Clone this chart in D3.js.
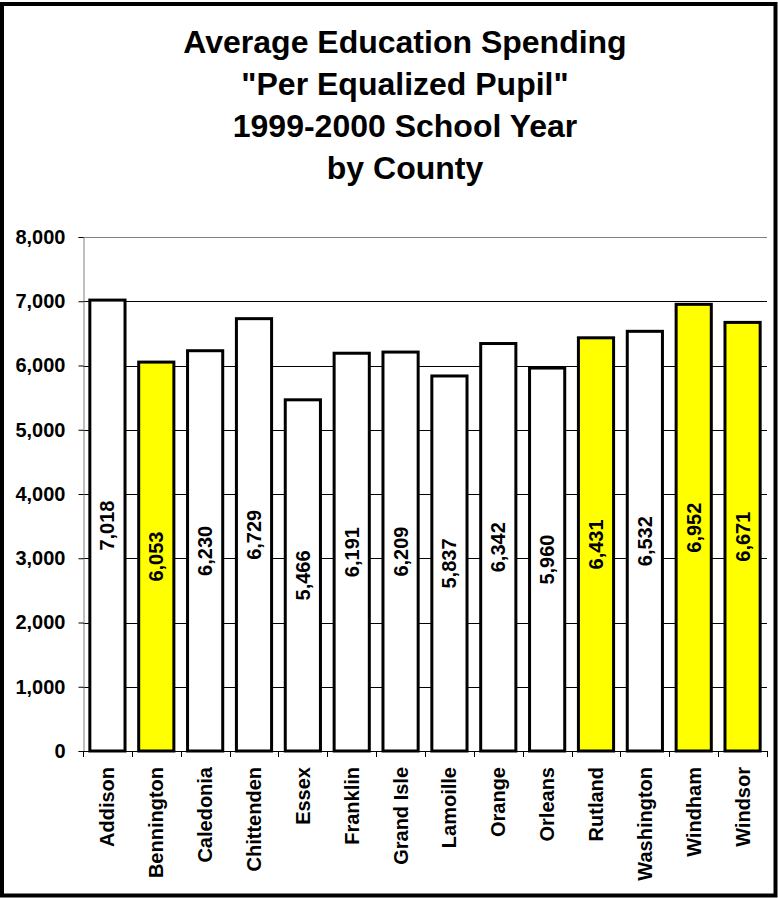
<!DOCTYPE html>
<html>
<head>
<meta charset="utf-8">
<script src="https://cdn.jsdelivr.net/npm/d3@7"></script>
<style>
  html, body { margin: 0; padding: 0; background: #fff; }
  svg { display: block; }
  text { font-family: "Liberation Sans", Arial, sans-serif; font-weight: bold; fill: #000; }
</style>
</head>
<body>
<svg id="chart" width="778" height="898"></svg>
<script>
const titleLines = ["Average Education Spending", "\"Per Equalized Pupil\"", "1999-2000 School Year", "by County"];
const counties = ["Addison", "Bennington", "Caledonia", "Chittenden", "Essex", "Franklin", "Grand Isle", "Lamoille", "Orange", "Orleans", "Rutland", "Washington", "Windham", "Windsor"];
const spending = [7018, 6053, 6230, 6729, 5466, 6191, 6209, 5837, 6342, 5960, 6431, 6532, 6952, 6671];
const highlighted = ["Bennington", "Rutland", "Windham", "Windsor"];
const yTicks = [0, 1000, 2000, 3000, 4000, 5000, 6000, 7000, 8000];

const svg = d3.select("#chart");
const W = 778, H = 898;
const plot = { left: 83, right: 767, top: 237, bottom: 751 };

// outer frame
svg.append("rect").attr("x", 2).attr("y", 4).attr("width", W - 4.5).attr("height", H - 6.5)
  .attr("fill", "#fff").attr("stroke", "#000").attr("stroke-width", 4);

// title
svg.append("g").selectAll("text").data(titleLines).join("text")
  .attr("x", 405).attr("y", (d, i) => 53 + i * 42)
  .attr("text-anchor", "middle").attr("font-size", 32)
  .text(d => d);

const x = d3.scaleBand().domain(counties).range([plot.left, plot.right])
  .paddingInner(0.28).paddingOuter(0.14);
const y = d3.scaleLinear().domain([0, 8000]).range([plot.bottom, plot.top]);

// gridlines
svg.append("g").selectAll("line").data(yTicks.filter(t => t > 0)).join("line")
  .attr("x1", plot.left).attr("x2", plot.right)
  .attr("y1", d => Math.round(y(d)) + 0.5).attr("y2", d => Math.round(y(d)) + 0.5)
  .attr("stroke", d => d === 8000 ? "#808080" : "#000").attr("stroke-width", 1);

// y axis
const yAxis = d3.axisLeft(y).tickValues(yTicks).tickFormat(d3.format(",")).tickSize(5).tickPadding(13);
const gy = svg.append("g").attr("transform", `translate(${plot.left + 0.5},0)`).call(yAxis);
gy.select(".domain").attr("stroke", "#808080");
gy.selectAll(".tick line").attr("stroke", "#000");
gy.selectAll(".tick text").attr("font-size", 20).attr("font-family", "Liberation Sans, Arial, sans-serif").attr("font-weight", "bold").attr("fill", "#000");

// x axis line and boundary ticks
const step = x.step();
const boundaries = d3.range(counties.length + 1).map(i => plot.left + i * step);
svg.append("line").attr("x1", plot.left).attr("x2", plot.right)
  .attr("y1", plot.bottom + 0.5).attr("y2", plot.bottom + 0.5).attr("stroke", "#000");
svg.append("g").selectAll("line").data(boundaries).join("line")
  .attr("x1", d => Math.round(d) + 0.5).attr("x2", d => Math.round(d) + 0.5)
  .attr("y1", plot.bottom).attr("y2", plot.bottom + 6).attr("stroke", "#000");

// bars
svg.append("g").selectAll("rect").data(counties).join("rect")
  .attr("x", d => x(d)).attr("width", x.bandwidth())
  .attr("y", (d, i) => y(spending[i])).attr("height", (d, i) => plot.bottom - y(spending[i]))
  .attr("fill", d => highlighted.includes(d) ? "#ffff00" : "#ffffff")
  .attr("stroke", "#000").attr("stroke-width", 3);

// value labels
svg.append("g").selectAll("text").data(counties).join("text")
  .attr("transform", (d, i) => `translate(${x(d) + x.bandwidth() / 2},${(y(spending[i]) + plot.bottom) / 2}) rotate(-90)`)
  .attr("text-anchor", "middle").attr("dy", "0.35em").attr("font-size", 20)
  .text((d, i) => d3.format(",")(spending[i]));

// category labels
svg.append("g").selectAll("text").data(counties).join("text")
  .attr("transform", d => `translate(${x(d) + x.bandwidth() / 2},${plot.bottom + 16}) rotate(-90)`)
  .attr("text-anchor", "end").attr("dy", "0.35em").attr("font-size", 20)
  .text(d => d);
</script>
</body>
</html>
